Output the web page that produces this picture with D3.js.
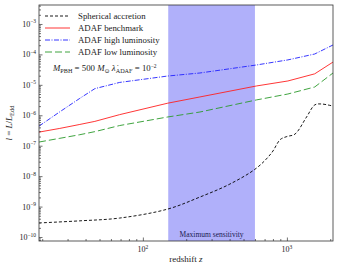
<!DOCTYPE html>
<html><head><meta charset="utf-8">
<script src="https://cdn.jsdelivr.net/npm/d3@7"></script>
<style>body{margin:0;background:#fff}svg{display:block}text{font-family:"Liberation Serif","DejaVu Serif",serif}</style>
</head><body>
<script>
// Redshift grid for the ADAF curves
const zAdaf = [19, 26.5, 36.5, 46.4, 69, 149, 249, 616, 1016, 1560, 2090];
const adafBenchmark = [2.8e-7, 3.7e-7, 5.0e-7, 6.3e-7, 1.05e-6, 2.5e-6, 4.0e-6, 9.2e-6, 1.34e-5, 2.3e-5, 5.6e-5];
const adafHigh      = [4.4e-7, 1.3e-6, 3.6e-6, 7.5e-6, 1.2e-5, 1.95e-5, 2.45e-5, 4.5e-5, 6.6e-5, 1.03e-4, 2.04e-4];
const adafLow       = [1.32e-7, 1.75e-7, 2.3e-7, 2.9e-7, 4.6e-7, 8.8e-7, 1.28e-6, 3.2e-6, 5.0e-6, 8.5e-6, 2.45e-5];
// Spherical accretion curve
const zSph = [19, 36.5, 69, 149, 249, 402, 616, 783, 900, 1000, 1137, 1370, 1564, 1741, 2090];
const spherical = [2.9e-10, 3.4e-10, 4.2e-10, 8.3e-10, 2.06e-9, 5.5e-9, 1.85e-8, 5.8e-8, 1.6e-7, 2.0e-7, 2.4e-7, 8.8e-7, 2.2e-6, 2.35e-6, 2.0e-6];
const band = [150, 600];
const zDomain = [19, 2090];
const lDomain = [7.4e-11, 4.2e-3];
const yTickExps = [-10, -9, -8, -7, -6, -5, -4, -3];
const xTickExps = [2, 3];
const legendLabels = ["Spherical accretion", "ADAF benchmark", "ADAF high luminosity", "ADAF low luminosity"];

const W = 339, H = 267;
const m = {l: 39, r: 6, t: 5, b: 26};
const svg = d3.select("body").append("svg").attr("width", W).attr("height", H);
const x = d3.scaleLog().domain(zDomain).range([m.l, W - m.r]);
const y = d3.scaleLog().domain(lDomain).range([H - m.b, m.t]);

// band
svg.append("rect").attr("x", x(band[0])).attr("y", m.t)
  .attr("width", x(band[1]) - x(band[0])).attr("height", H - m.b - m.t)
  .attr("fill", "rgb(176,176,250)");
svg.append("text").attr("x", (x(band[0]) + x(band[1])) / 2).attr("y", H - m.b - 4)
  .attr("text-anchor", "middle").attr("font-size", 7.5).attr("fill", "#1a1a50").text("Maximum sensitivity");

const series = [
  {v: spherical, z: zSph, c: "#000", dash: "3,2", w: 0.9, curve: d3.curveCatmullRom},
  {v: adafBenchmark, z: zAdaf, c: "#ff2020", dash: null, w: 0.9, curve: d3.curveLinear},
  {v: adafHigh, z: zAdaf, c: "#2020ff", dash: "5,1.5,1,1.5", w: 0.9, curve: d3.curveLinear},
  {v: adafLow, z: zAdaf, c: "#2a9a2a", dash: "7,3", w: 0.9, curve: d3.curveLinear},
];
const g = svg.append("g");
series.forEach(s => {
  const ln = d3.line().x((d, i) => x(s.z[i])).y(d => y(d)).curve(s.curve);
  g.append("path").attr("d", ln(s.v)).attr("fill", "none")
    .attr("stroke", s.c).attr("stroke-width", s.w).attr("stroke-dasharray", s.dash);
});

// axes
const yMinor = [];
for (let e = -11; e <= -3; e++) for (let k = 2; k <= 9; k++) { const v = k * Math.pow(10, e); if (v > lDomain[0] && v < lDomain[1]) yMinor.push(v); }
const xMinor = [];
for (let e = 1; e <= 3; e++) for (let k = 2; k <= 9; k++) { const v = k * Math.pow(10, e); if (v > zDomain[0] && v < zDomain[1]) xMinor.push(v); }
svg.append("g").attr("transform", `translate(${m.l},0)`)
  .call(d3.axisLeft(y).tickSizeInner(-3.5).tickSizeOuter(0).tickValues(yTickExps.map(e => Math.pow(10, e))).tickFormat(""));
svg.append("g").attr("transform", `translate(${m.l},0)`)
  .call(d3.axisLeft(y).tickSizeInner(-2).tickSizeOuter(0).tickValues(yMinor).tickFormat(""));
svg.append("g").attr("transform", `translate(0,${H - m.b})`)
  .call(d3.axisBottom(x).tickSizeInner(-3.5).tickSizeOuter(0).tickValues(xTickExps.map(e => Math.pow(10, e))).tickFormat(""));
svg.append("g").attr("transform", `translate(0,${H - m.b})`)
  .call(d3.axisBottom(x).tickSizeInner(-2).tickSizeOuter(0).tickValues(xMinor).tickFormat(""));
svg.selectAll(".domain").remove();
svg.selectAll(".tick line").attr("stroke", "#333").attr("stroke-width", 0.7);
svg.append("rect").attr("x", m.l).attr("y", m.t).attr("width", W - m.r - m.l).attr("height", H - m.b - m.t)
  .attr("fill", "none").attr("stroke", "#333").attr("stroke-width", 0.8);

// tick labels
yTickExps.forEach(e => {
  const t = svg.append("text").attr("x", m.l - 3).attr("y", y(Math.pow(10, e)) + 3)
    .attr("text-anchor", "end").attr("font-size", 8).attr("fill", "#222");
  t.append("tspan").text("10");
  t.append("tspan").attr("dy", -3.5).attr("font-size", 5.5).text("−" + Math.abs(e));
});
xTickExps.forEach(e => {
  const t = svg.append("text").attr("x", x(Math.pow(10, e))).attr("y", H - m.b + 11)
    .attr("text-anchor", "middle").attr("font-size", 8).attr("fill", "#222");
  t.append("tspan").text("10");
  t.append("tspan").attr("dy", -3.5).attr("font-size", 5.5).text(e);
});

// axis labels
const xl = svg.append("text").attr("x", (m.l + W - m.r) / 2).attr("y", H - 5)
  .attr("text-anchor", "middle").attr("font-size", 9).attr("fill", "#222");
xl.append("tspan").text("redshift ");
xl.append("tspan").attr("font-style", "italic").text("z");

const yl = svg.append("text").attr("transform", `translate(12,${(m.t + H - m.b) / 2}) rotate(-90)`)
  .attr("text-anchor", "middle").attr("font-size", 9).attr("fill", "#222");
yl.append("tspan").attr("font-style", "italic").text("l");
yl.append("tspan").text(" = ");
yl.append("tspan").attr("font-style", "italic").text("L");
yl.append("tspan").text("/");
yl.append("tspan").attr("font-style", "italic").text("L");
yl.append("tspan").attr("dy", 2).attr("font-size", 6.5).text("Edd");

// legend
const ly0 = 16, ldy = 12;
series.forEach((s, i) => {
  const yy = ly0 + i * ldy;
  svg.append("line").attr("x1", 45).attr("x2", 70).attr("y1", yy).attr("y2", yy)
    .attr("stroke", s.c).attr("stroke-width", s.w).attr("stroke-dasharray", s.dash);
  svg.append("text").attr("x", 78).attr("y", yy + 3).attr("font-size", 8.8).attr("fill", "#222").text(legendLabels[i]);
});
const note = svg.append("text").attr("x", 53).attr("y", 71).attr("font-size", 8.8).attr("fill", "#222");
note.append("tspan").attr("font-style", "italic").text("M");
note.append("tspan").attr("dy", 2).attr("font-size", 6.2).text("PBH");
note.append("tspan").attr("dy", -2).text(" = 500 ");
note.append("tspan").attr("font-style", "italic").text("M");
note.append("tspan").attr("dy", 2).attr("font-size", 6.2).text("⊙");
note.append("tspan").attr("dy", -2).attr("font-style", "italic").text(" λ\u0307");
note.append("tspan").attr("dy", 2).attr("font-size", 6.2).text("ADAF");
note.append("tspan").attr("dy", -2).text(" = 10");
note.append("tspan").attr("dy", -3.5).attr("font-size", 5.5).text("−2");
</script>
</body></html>
